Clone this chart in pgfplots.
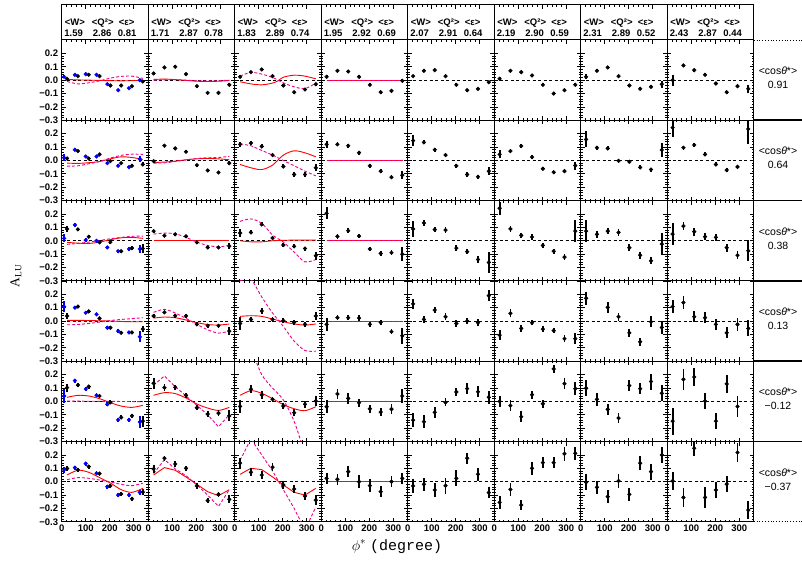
\documentclass[border=0pt]{standalone}
\usepackage{fontspec}
\setmainfont{Liberation Sans}
\newfontfamily\serifA{Liberation Serif}
\newfontfamily\monoA{Liberation Mono}
\usepackage{pgfplots}
\pgfplotsset{compat=1.18}
\pgfplotsset{
 panel/.style={scale only axis, width=86.5pt, height=80.3pt, anchor=north west,
  xmin=0, xmax=360, ymin=-0.3, ymax=0.3,
  xtick={0,100,200,300}, ytick={-0.3,-0.2,-0.1,0,0.1,0.2},
  minor x tick num=4, minor y tick num=4,
  xticklabels={}, yticklabels={},
  major tick length=4pt, minor tick length=2pt,
  axis line style={line width=1pt},
  every tick/.style={black, line width=0.7pt},
  tick label style={font=\bfseries\fontsize{9.5}{10}\selectfont},
  extra y ticks={0}, extra y tick labels={},
  extra y tick style={grid=major, major grid style={black, dash pattern=on 3pt off 2.5pt, line width=0.8pt}},
  clip=true},
 ylab/.style={yticklabels={−0.3,−0.2,−0.1,0.0,0.1,0.2}},
 xlab/.style={xticklabels={0,100,200,300}},
 pts/.style={black, only marks, mark=*, mark size=1.9pt,
  error bars/.cd, y dir=both, y explicit, error mark=none, error bar style={line width=1.8pt, black}},
 bpts/.style={blue, only marks, mark=*, mark size=1.9pt, mark options={fill=blue, draw=blue},
  error bars/.cd, y dir=both, y explicit, error mark=none, error bar style={line width=1.8pt, blue}},
 rc/.style={red, line width=0.9pt, no marks, smooth},
 mc/.style={magenta, dash pattern=on 3pt off 2pt, line width=0.9pt, no marks, smooth},
 rs/.style={red, line width=0.9pt, no marks, sharp plot},
 ms/.style={magenta, dash pattern=on 3pt off 2pt, line width=0.9pt, no marks, sharp plot},
}
\begin{document}
\begin{tikzpicture}
\path[use as bounding box] (0pt,0pt) rectangle (802pt,560pt);

% ---------------- header cells ----------------
\foreach \i/\w/\q/\e in {0/1.59/2.86/0.81, 1/1.71/2.87/0.78, 2/1.83/2.89/0.74, 3/1.95/2.92/0.69, 4/2.07/2.91/0.64, 5/2.19/2.90/0.59, 6/2.31/2.89/0.52, 7/2.43/2.87/0.44}{
 \begin{axis}[scale only axis, width=86.5pt, height=35pt, at={({61.7pt+86.5pt*\i},520pt)}, anchor=south west,
  xmin=0, xmax=360, ymin=0, ymax=1, xtick={0,100,200,300}, minor x tick num=4, xticklabels={}, ytick=\empty,
  xtick pos=right, axis line style={line width=1pt}, major tick length=4pt, minor tick length=2pt,
  every tick/.style={black, line width=0.7pt}]
 \end{axis}
 \node[anchor=base west, font=\bfseries\fontsize{9.5}{10}\selectfont, inner sep=0pt] at ({61.7pt+86.5pt*\i+3pt},534pt) {<W>};
 \node[anchor=base west, font=\bfseries\fontsize{9.5}{10}\selectfont, inner sep=0pt] at ({61.7pt+86.5pt*\i+30pt},534pt) {<Q²>};
 \node[anchor=base west, font=\bfseries\fontsize{9.5}{10}\selectfont, inner sep=0pt] at ({61.7pt+86.5pt*\i+57pt},534pt) {<ε>};
 \node[anchor=base west, font=\bfseries\fontsize{9.5}{10}\selectfont, inner sep=0pt] at ({61.7pt+86.5pt*\i+2.5pt},523.5pt) {\w};
 \node[anchor=base west, font=\bfseries\fontsize{9.5}{10}\selectfont, inner sep=0pt] at ({61.7pt+86.5pt*\i+31pt},523.5pt) {\q};
 \node[anchor=base west, font=\bfseries\fontsize{9.5}{10}\selectfont, inner sep=0pt] at ({61.7pt+86.5pt*\i+56pt},523.5pt) {\e};
}

% ================= ROW 1 (cos = 0.91) =================
\begin{axis}[panel, ylab, at={(61.7pt,520pt)}]
\addplot[rc] coordinates {(22.5,0.005)(67.5,0.002)(112.5,0.0)(157.5,-0.002)(202.5,-0.004)(247.5,-0.005)(292.5,-0.004)(337.5,0.0)};
\addplot[mc] coordinates {(22.5,-0.01)(67.5,-0.028)(112.5,-0.02)(157.5,-0.005)(202.5,0.015)(247.5,0.028)(292.5,0.03)(337.5,0.013)};
\addplot[bpts] table[row sep=\\, y error index=2]{10 0.025 0.01\\55 0.04 0.008\\100 0.045 0.008\\145 0.04 0.008\\190 -0.03 0.008\\235 -0.075 0.008\\280 -0.06 0.008\\325 0.0 0.01\\};
\addplot[pts] table[row sep=\\, y error index=2]{22.5 0.01 0.008\\67.5 0.03 0.008\\112.5 0.04 0.008\\157.5 0.03 0.008\\202.5 -0.04 0.008\\247.5 -0.04 0.008\\292.5 -0.045 0.008\\337.5 -0.01 0.01\\};
\end{axis}
\begin{axis}[panel, at={(148.2pt,520pt)}]
\addplot[rc] coordinates {(22.5,0.005)(67.5,0.008)(112.5,0.004)(157.5,-0.002)(202.5,-0.008)(247.5,-0.01)(292.5,-0.008)(337.5,-0.003)};
\addplot[mc] coordinates {(22.5,0.0)(112.5,0.003)(202.5,-0.004)(292.5,-0.004)(337.5,0.0)};
\addplot[pts] table[row sep=\\, y error index=2]{22.5 0.05 0.01\\67.5 0.095 0.01\\112.5 0.1 0.01\\157.5 0.045 0.01\\202.5 -0.045 0.01\\247.5 -0.095 0.01\\292.5 -0.095 0.01\\337.5 -0.035 0.01\\};
\end{axis}
\begin{axis}[panel, at={(234.7pt,520pt)}]
\addplot[rc] coordinates {(22.5,-0.012)(67.5,-0.028)(112.5,-0.035)(157.5,-0.022)(180,-0.005)(202.5,0.022)(247.5,0.037)(292.5,0.03)(337.5,0.01)};
\addplot[mc] coordinates {(22.5,0.03)(67.5,0.058)(112.5,0.045)(157.5,0.02)(202.5,-0.02)(247.5,-0.05)(292.5,-0.063)(337.5,-0.022)};
\addplot[pts] table[row sep=\\, y error index=2]{22.5 0.025 0.01\\67.5 0.06 0.01\\112.5 0.08 0.01\\157.5 0.03 0.01\\202.5 -0.04 0.01\\247.5 -0.09 0.01\\292.5 -0.07 0.01\\337.5 -0.03 0.01\\};
\end{axis}
\begin{axis}[panel, at={(321.2pt,520pt)}]
\addplot[rs] coordinates {(22.5,0)(337.5,0)};
\addplot[ms] coordinates {(22.5,0)(337.5,0)};
\addplot[pts] table[row sep=\\, y error index=2]{22.5 0.025 0.01\\67.5 0.07 0.01\\112.5 0.065 0.01\\157.5 0.025 0.01\\202.5 -0.035 0.01\\247.5 -0.09 0.01\\292.5 -0.08 0.01\\337.5 -0.005 0.01\\};
\end{axis}
\begin{axis}[panel, at={(407.7pt,520pt)}]
\addplot[pts] table[row sep=\\, y error index=2]{22.5 0.03 0.01\\67.5 0.07 0.01\\112.5 0.075 0.01\\157.5 0.03 0.01\\202.5 -0.035 0.01\\247.5 -0.075 0.01\\292.5 -0.065 0.01\\337.5 -0.015 0.01\\};
\end{axis}
\begin{axis}[panel, at={(494.2pt,520pt)}]
\addplot[pts] table[row sep=\\, y error index=2]{22.5 0.01 0.01\\67.5 0.07 0.01\\112.5 0.06 0.01\\157.5 0.035 0.01\\202.5 -0.035 0.01\\247.5 -0.1 0.01\\292.5 -0.075 0.01\\337.5 -0.035 0.01\\};
\end{axis}
\begin{axis}[panel, at={(580.7pt,520pt)}]
\addplot[pts] table[row sep=\\, y error index=2]{22.5 0.025 0.02\\67.5 0.07 0.012\\112.5 0.095 0.012\\157.5 0.03 0.012\\202.5 -0.04 0.012\\247.5 -0.065 0.012\\292.5 -0.05 0.012\\337.5 -0.03 0.025\\};
\end{axis}
\begin{axis}[panel, at={(667.2pt,520pt)}]
\addplot[pts] table[row sep=\\, y error index=2]{22.5 0.0 0.04\\67.5 0.11 0.012\\112.5 0.075 0.012\\157.5 0.04 0.012\\202.5 -0.025 0.012\\247.5 -0.09 0.012\\292.5 -0.045 0.015\\337.5 -0.065 0.03\\};
\end{axis}

% ================= ROW 2 (cos = 0.64) =================
\begin{axis}[panel, ylab, at={(61.7pt,439.7pt)}]
\addplot[rc] coordinates {(22.5,-0.02)(67.5,-0.022)(112.5,-0.017)(157.5,-0.008)(202.5,0.012)(247.5,0.027)(292.5,0.022)(337.5,0.008)};
\addplot[mc] coordinates {(22.5,-0.043)(67.5,-0.04)(112.5,-0.025)(157.5,-0.008)(202.5,0.018)(247.5,0.038)(292.5,0.047)(337.5,0.045)};
\addplot[bpts] table[row sep=\\, y error index=2]{10 0.02 0.025\\55 0.08 0.01\\100 0.03 0.01\\145 0.03 0.01\\190 -0.02 0.01\\235 -0.04 0.01\\280 -0.05 0.01\\325 0.01 0.02\\};
\addplot[pts] table[row sep=\\, y error index=2]{22.5 0.015 0.01\\67.5 0.07 0.01\\112.5 0.015 0.01\\157.5 0.045 0.01\\202.5 -0.005 0.01\\247.5 -0.02 0.01\\292.5 -0.04 0.01\\337.5 -0.03 0.015\\};
\end{axis}
\begin{axis}[panel, at={(148.2pt,439.7pt)}]
\addplot[rc] coordinates {(22.5,-0.015)(67.5,-0.012)(112.5,-0.005)(157.5,0.005)(202.5,0.012)(247.5,0.015)(292.5,0.012)(337.5,0.005)};
\addplot[mc] coordinates {(22.5,-0.02)(67.5,-0.018)(112.5,-0.008)(157.5,0.004)(202.5,0.015)(247.5,0.02)(292.5,0.022)(337.5,0.03)};
\addplot[pts] table[row sep=\\, y error index=2]{22.5 -0.005 0.012\\67.5 0.11 0.012\\112.5 0.09 0.012\\157.5 0.065 0.012\\202.5 -0.035 0.012\\247.5 -0.075 0.012\\292.5 -0.09 0.012\\337.5 -0.02 0.015\\};
\end{axis}
\begin{axis}[panel, at={(234.7pt,439.7pt)}]
\addplot[rc] coordinates {(22.5,-0.03)(67.5,-0.055)(112.5,-0.068)(157.5,-0.035)(202.5,0.04)(247.5,0.072)(292.5,0.057)(337.5,0.027)};
\addplot[ms] coordinates {(22.5,0.125)(67.5,0.11)(112.5,0.075)(157.5,0.04)(202.5,0.0)(247.5,-0.04)(292.5,-0.08)(337.5,-0.115)};
\addplot[pts] table[row sep=\\, y error index=2]{22.5 0.12 0.02\\67.5 0.13 0.015\\112.5 0.105 0.015\\157.5 0.04 0.015\\202.5 -0.045 0.015\\247.5 -0.105 0.015\\292.5 -0.105 0.015\\337.5 -0.055 0.025\\};
\end{axis}
\begin{axis}[panel, at={(321.2pt,439.7pt)}]
\addplot[rs] coordinates {(22.5,0)(337.5,0)};
\addplot[ms] coordinates {(22.5,0)(337.5,0)};
\addplot[pts] table[row sep=\\, y error index=2]{22.5 0.12 0.025\\67.5 0.12 0.015\\112.5 0.11 0.015\\157.5 0.058 0.015\\202.5 -0.04 0.015\\247.5 -0.08 0.015\\292.5 -0.125 0.015\\337.5 -0.11 0.03\\};
\end{axis}
\begin{axis}[panel, at={(407.7pt,439.7pt)}]
\addplot[pts] table[row sep=\\, y error index=2]{22.5 0.148 0.04\\67.5 0.135 0.015\\112.5 0.08 0.015\\157.5 0.04 0.015\\202.5 -0.04 0.015\\247.5 -0.105 0.015\\292.5 -0.122 0.015\\337.5 -0.08 0.03\\};
\end{axis}
\begin{axis}[panel, at={(494.2pt,439.7pt)}]
\addplot[pts] table[row sep=\\, y error index=2]{22.5 0.045 0.03\\67.5 0.07 0.015\\112.5 0.108 0.015\\157.5 0.025 0.012\\202.5 -0.062 0.012\\247.5 -0.088 0.012\\292.5 -0.08 0.015\\337.5 -0.038 0.03\\};
\end{axis}
\begin{axis}[panel, at={(580.7pt,439.7pt)}]
\addplot[pts] table[row sep=\\, y error index=2]{22.5 0.157 0.06\\67.5 0.095 0.015\\112.5 0.09 0.015\\157.5 -0.003 0.012\\202.5 -0.01 0.012\\247.5 -0.052 0.015\\292.5 -0.068 0.015\\337.5 0.078 0.05\\};
\end{axis}
\begin{axis}[panel, at={(667.2pt,439.7pt)}]
\addplot[pts] table[row sep=\\, y error index=2]{22.5 0.245 0.07\\67.5 0.095 0.015\\112.5 0.115 0.015\\157.5 0.045 0.015\\202.5 -0.03 0.015\\247.5 -0.072 0.015\\292.5 -0.048 0.015\\337.5 0.235 0.11\\};
\end{axis}

% ================= ROW 3 (cos = 0.38) =================
\begin{axis}[panel, ylab, at={(61.7pt,359.4pt)}]
\addplot[rc] coordinates {(22.5,-0.012)(67.5,-0.018)(112.5,-0.02)(157.5,-0.01)(202.5,0.008)(247.5,0.022)(292.5,0.025)(337.5,0.018)};
\addplot[mc] coordinates {(22.5,-0.027)(67.5,-0.02)(112.5,-0.01)(157.5,0.002)(202.5,0.015)(247.5,0.025)(292.5,0.033)(337.5,0.035)};
\addplot[bpts] table[row sep=\\, y error index=2]{10 0.018 0.03\\55 0.118 0.012\\100 0.005 0.012\\145 0.0 0.012\\190 -0.05 0.012\\235 -0.078 0.012\\280 -0.062 0.012\\325 -0.062 0.03\\};
\addplot[pts] table[row sep=\\, y error index=2]{22.5 0.088 0.02\\67.5 0.085 0.012\\112.5 0.03 0.012\\157.5 -0.012 0.012\\202.5 -0.01 0.012\\247.5 -0.078 0.012\\292.5 -0.055 0.015\\337.5 -0.058 0.03\\};
\end{axis}
\begin{axis}[panel, at={(148.2pt,359.4pt)}]
\addplot[rs] coordinates {(22.5,0)(337.5,0)};
\addplot[mc] coordinates {(22.5,0.05)(67.5,0.057)(112.5,0.052)(157.5,0.025)(202.5,-0.01)(247.5,-0.035)(292.5,-0.045)(337.5,-0.035)};
\addplot[pts] table[row sep=\\, y error index=2]{22.5 0.072 0.012\\67.5 0.038 0.012\\112.5 0.048 0.012\\157.5 0.033 0.012\\202.5 -0.012 0.012\\247.5 -0.05 0.012\\292.5 -0.05 0.012\\337.5 -0.04 0.02\\};
\end{axis}
\begin{axis}[panel, at={(234.7pt,359.4pt)}]
\addplot[rc] coordinates {(22.5,0.0)(67.5,-0.008)(112.5,-0.008)(157.5,0.0)(202.5,0.003)(247.5,0.005)(292.5,0.005)(337.5,0.005)};
\addplot[mc] coordinates {(22.5,0.145)(67.5,0.163)(112.5,0.13)(157.5,0.043)(202.5,-0.01)(247.5,-0.085)(292.5,-0.158)(337.5,-0.14)};
\addplot[pts] table[row sep=\\, y error index=2]{22.5 0.058 0.03\\67.5 0.062 0.015\\112.5 0.122 0.015\\157.5 0.02 0.015\\202.5 -0.032 0.015\\247.5 -0.042 0.015\\292.5 -0.058 0.015\\337.5 -0.112 0.03\\};
\end{axis}
\begin{axis}[panel, at={(321.2pt,359.4pt)}]
\addplot[rs] coordinates {(22.5,0)(337.5,0)};
\addplot[ms] coordinates {(22.5,0)(337.5,0)};
\addplot[pts] table[row sep=\\, y error index=2]{22.5 0.205 0.045\\67.5 0.032 0.018\\112.5 0.075 0.018\\157.5 0.035 0.018\\202.5 -0.062 0.018\\247.5 -0.095 0.018\\292.5 -0.09 0.018\\337.5 -0.1 0.05\\};
\end{axis}
\begin{axis}[panel, at={(407.7pt,359.4pt)}]
\addplot[pts] table[row sep=\\, y error index=2]{22.5 0.088 0.06\\67.5 0.133 0.02\\112.5 0.083 0.02\\157.5 0.08 0.02\\202.5 -0.055 0.02\\247.5 -0.082 0.02\\292.5 -0.14 0.025\\337.5 -0.162 0.08\\};
\end{axis}
\begin{axis}[panel, at={(494.2pt,359.4pt)}]
\addplot[pts] table[row sep=\\, y error index=2]{22.5 0.243 0.05\\67.5 0.088 0.02\\112.5 0.04 0.02\\157.5 0.028 0.02\\202.5 -0.035 0.02\\247.5 -0.078 0.02\\292.5 -0.122 0.02\\337.5 0.072 0.08\\};
\end{axis}
\begin{axis}[panel, at={(580.7pt,359.4pt)}]
\addplot[pts] table[row sep=\\, y error index=2]{22.5 0.072 0.08\\67.5 0.048 0.025\\112.5 0.072 0.025\\157.5 0.062 0.025\\202.5 -0.052 0.025\\247.5 -0.108 0.025\\292.5 -0.15 0.025\\337.5 -0.025 0.08\\};
\end{axis}
\begin{axis}[panel, at={(667.2pt,359.4pt)}]
\addplot[pts] table[row sep=\\, y error index=2]{22.5 0.05 0.08\\67.5 0.11 0.03\\112.5 0.068 0.03\\157.5 0.03 0.025\\202.5 0.025 0.025\\247.5 -0.052 0.03\\292.5 -0.108 0.03\\337.5 -0.075 0.08\\};
\end{axis}

% ================= ROW 4 (cos = 0.13) =================
\begin{axis}[panel, ylab, at={(61.7pt,279.1pt)}]
\addplot[rc] coordinates {(22.5,0.005)(67.5,0.005)(112.5,0.004)(157.5,0.002)(202.5,0.0)(247.5,-0.003)(292.5,-0.005)(337.5,-0.005)};
\addplot[mc] coordinates {(22.5,-0.028)(67.5,-0.026)(112.5,-0.018)(157.5,-0.008)(202.5,0.004)(247.5,0.012)(292.5,0.018)(337.5,0.025)};
\addplot[bpts] table[row sep=\\, y error index=2]{10 0.108 0.04\\55 0.1 0.012\\100 0.062 0.012\\145 0.05 0.012\\190 -0.05 0.012\\235 -0.075 0.012\\280 -0.085 0.012\\325 -0.118 0.04\\};
\addplot[pts] table[row sep=\\, y error index=2]{22.5 0.038 0.025\\67.5 0.108 0.012\\112.5 0.072 0.012\\157.5 0.02 0.012\\202.5 -0.05 0.012\\247.5 -0.088 0.012\\292.5 -0.085 0.012\\337.5 -0.06 0.025\\};
\end{axis}
\begin{axis}[panel, at={(148.2pt,279.1pt)}]
\addplot[rc] coordinates {(22.5,0.022)(67.5,0.03)(112.5,0.025)(157.5,0.008)(202.5,-0.012)(247.5,-0.026)(292.5,-0.03)(337.5,-0.022)};
\addplot[mc] coordinates {(22.5,0.065)(67.5,0.088)(112.5,0.06)(157.5,0.02)(202.5,-0.025)(247.5,-0.065)(292.5,-0.09)(337.5,-0.075)};
\addplot[pts] table[row sep=\\, y error index=2]{22.5 0.038 0.018\\67.5 0.065 0.015\\112.5 0.04 0.015\\157.5 0.038 0.015\\202.5 -0.025 0.015\\247.5 -0.035 0.015\\292.5 -0.035 0.015\\337.5 -0.075 0.03\\};
\end{axis}
\begin{axis}[panel, at={(234.7pt,279.1pt)}]
\addplot[rc] coordinates {(22.5,0.035)(67.5,0.04)(112.5,0.035)(157.5,0.015)(202.5,-0.005)(247.5,-0.022)(292.5,-0.03)(337.5,-0.022)};
\addplot[mc] coordinates {(22.5,0.3)(67.5,0.31)(112.5,0.18)(157.5,0.06)(202.5,-0.04)(247.5,-0.15)(292.5,-0.22)(337.5,-0.225)};
\addplot[pts] table[row sep=\\, y error index=2]{22.5 -0.018 0.05\\67.5 0.012 0.02\\112.5 0.075 0.02\\157.5 0.012 0.018\\202.5 0.002 0.018\\247.5 -0.01 0.018\\292.5 -0.025 0.018\\337.5 0.038 0.03\\};
\end{axis}
\begin{axis}[panel, at={(321.2pt,279.1pt)}]
\addplot[rs] coordinates {(22.5,0)(337.5,0)};
\addplot[ms] coordinates {(22.5,0)(337.5,0)};
\addplot[pts] table[row sep=\\, y error index=2]{22.5 -0.025 0.05\\67.5 0.025 0.02\\112.5 0.025 0.02\\157.5 0.022 0.02\\202.5 -0.025 0.02\\247.5 -0.01 0.02\\292.5 -0.08 0.02\\337.5 -0.11 0.06\\};
\end{axis}
\begin{axis}[panel, at={(407.7pt,279.1pt)}]
\addplot[pts] table[row sep=\\, y error index=2]{22.5 0.128 0.04\\67.5 0.012 0.025\\112.5 0.082 0.025\\157.5 0.032 0.025\\202.5 -0.018 0.025\\247.5 0.0 0.025\\292.5 -0.012 0.025\\337.5 0.19 0.04\\};
\end{axis}
\begin{axis}[panel, at={(494.2pt,279.1pt)}]
\addplot[pts] table[row sep=\\, y error index=2]{22.5 -0.105 0.04\\67.5 0.058 0.03\\112.5 -0.055 0.025\\157.5 -0.012 0.02\\202.5 -0.06 0.02\\247.5 -0.072 0.02\\292.5 -0.132 0.025\\337.5 -0.132 0.04\\};
\end{axis}
\begin{axis}[panel, at={(580.7pt,279.1pt)}]
\addplot[pts] table[row sep=\\, y error index=2]{22.5 0.17 0.05\\112.5 0.102 0.04\\157.5 0.032 0.03\\202.5 -0.088 0.03\\247.5 -0.155 0.03\\292.5 -0.005 0.04\\337.5 -0.048 0.05\\};
\end{axis}
\begin{axis}[panel, at={(667.2pt,279.1pt)}]
\addplot[pts] table[row sep=\\, y error index=2]{22.5 0.108 0.05\\67.5 0.138 0.05\\112.5 0.032 0.04\\157.5 0.025 0.04\\202.5 -0.025 0.04\\247.5 -0.088 0.04\\292.5 -0.025 0.05\\337.5 -0.055 0.06\\};
\end{axis}

% ================= ROW 5 (cos = -0.12) =================
\begin{axis}[panel, ylab, at={(61.7pt,198.8pt)}]
\addplot[rc] coordinates {(22.5,0.03)(67.5,0.045)(112.5,0.04)(157.5,0.02)(202.5,-0.01)(247.5,-0.035)(292.5,-0.045)(337.5,-0.03)};
\addplot[ms] coordinates {(22.5,0.002)(337.5,-0.002)};
\addplot[bpts] table[row sep=\\, y error index=2]{10 0.04 0.05\\55 0.155 0.015\\100 0.092 0.015\\145 0.045 0.015\\190 -0.022 0.015\\235 -0.138 0.015\\280 -0.138 0.015\\325 -0.155 0.045\\};
\addplot[pts] table[row sep=\\, y error index=2]{22.5 0.102 0.03\\67.5 0.122 0.015\\112.5 0.11 0.015\\157.5 0.04 0.015\\202.5 -0.008 0.015\\247.5 -0.12 0.015\\292.5 -0.108 0.015\\337.5 -0.148 0.04\\};
\end{axis}
\begin{axis}[panel, at={(148.2pt,198.8pt)}]
\addplot[rc] coordinates {(22.5,0.045)(67.5,0.065)(112.5,0.058)(157.5,0.025)(202.5,-0.02)(247.5,-0.05)(292.5,-0.068)(337.5,-0.045)};
\addplot[ms] coordinates {(22.5,0.12)(67.5,0.19)(112.5,0.11)(157.5,0.04)(202.5,-0.03)(247.5,-0.1)(292.5,-0.19)(337.5,-0.1)};
\addplot[pts] table[row sep=\\, y error index=2]{22.5 0.135 0.04\\67.5 0.102 0.025\\112.5 0.105 0.02\\157.5 0.045 0.02\\202.5 -0.048 0.02\\247.5 -0.095 0.02\\292.5 -0.088 0.02\\337.5 -0.108 0.04\\};
\end{axis}
\begin{axis}[panel, at={(234.7pt,198.8pt)}]
\addplot[rc] coordinates {(22.5,0.045)(67.5,0.08)(112.5,0.06)(157.5,0.02)(202.5,-0.025)(247.5,-0.055)(292.5,-0.07)(337.5,-0.04)};
\addplot[mc] coordinates {(22.5,0.6)(67.5,0.4)(112.5,0.2)(157.5,0.1)(202.5,0.01)(247.5,-0.15)(292.5,-0.38)(337.5,-0.5)};
\addplot[pts] table[row sep=\\, y error index=2]{22.5 -0.038 0.05\\67.5 0.09 0.03\\112.5 0.048 0.03\\157.5 0.015 0.02\\202.5 -0.035 0.025\\247.5 -0.085 0.025\\292.5 -0.022 0.025\\337.5 0.002 0.04\\};
\end{axis}
\begin{axis}[panel, at={(321.2pt,198.8pt)}]
\addplot[rs] coordinates {(22.5,0)(337.5,0)};
\addplot[ms] coordinates {(22.5,0)(337.5,0)};
\addplot[pts] table[row sep=\\, y error index=2]{22.5 -0.04 0.05\\67.5 0.055 0.04\\112.5 0.022 0.04\\157.5 -0.01 0.03\\202.5 -0.055 0.03\\247.5 -0.08 0.03\\292.5 -0.058 0.04\\337.5 0.04 0.05\\};
\end{axis}
\begin{axis}[panel, at={(407.7pt,198.8pt)}]
\addplot[pts] table[row sep=\\, y error index=2]{22.5 -0.14 0.05\\67.5 -0.152 0.05\\112.5 -0.082 0.04\\157.5 -0.008 0.03\\202.5 0.07 0.03\\247.5 0.095 0.04\\292.5 0.072 0.04\\337.5 0.03 0.05\\};
\end{axis}
\begin{axis}[panel, at={(494.2pt,198.8pt)}]
\addplot[pts] table[row sep=\\, y error index=2]{22.5 0.0 0.04\\67.5 -0.032 0.04\\112.5 -0.115 0.04\\157.5 0.05 0.03\\202.5 -0.018 0.03\\247.5 0.242 0.03\\292.5 0.132 0.04\\337.5 0.095 0.05\\};
\end{axis}
\begin{axis}[panel, at={(580.7pt,198.8pt)}]
\addplot[pts] table[row sep=\\, y error index=2]{22.5 0.098 0.06\\67.5 0.015 0.05\\112.5 -0.06 0.04\\157.5 -0.125 0.04\\202.5 0.118 0.04\\247.5 0.095 0.04\\292.5 0.148 0.06\\337.5 0.06 0.06\\};
\end{axis}
\begin{axis}[panel, at={(667.2pt,198.8pt)}]
\addplot[pts] table[row sep=\\, y error index=2]{22.5 -0.148 0.1\\67.5 0.165 0.08\\112.5 0.182 0.07\\157.5 0.002 0.06\\202.5 -0.148 0.06\\247.5 0.13 0.07\\292.5 -0.038 0.08\\};
\end{axis}

% ================= ROW 6 (cos = -0.37) =================
\begin{axis}[panel, ylab, xlab, at={(61.7pt,118.5pt)}]
\addplot[rc] coordinates {(22.5,0.05)(67.5,0.085)(112.5,0.07)(157.5,0.03)(202.5,-0.01)(247.5,-0.06)(292.5,-0.08)(337.5,-0.05)};
\addplot[mc] coordinates {(22.5,0.015)(67.5,0.03)(112.5,0.025)(157.5,0.012)(202.5,-0.002)(247.5,-0.02)(292.5,-0.03)(337.5,-0.012)};
\addplot[bpts] table[row sep=\\, y error index=2]{10 0.088 0.02\\55 0.105 0.015\\100 0.135 0.015\\145 0.062 0.015\\190 -0.038 0.015\\235 -0.1 0.015\\280 -0.1 0.015\\325 -0.08 0.02\\};
\addplot[pts] table[row sep=\\, y error index=2]{22.5 0.098 0.02\\67.5 0.088 0.015\\112.5 0.112 0.015\\157.5 0.06 0.015\\202.5 -0.032 0.015\\247.5 -0.092 0.015\\292.5 -0.128 0.015\\337.5 -0.078 0.02\\};
\end{axis}
\begin{axis}[panel, xlab, at={(148.2pt,118.5pt)}]
\addplot[rs] coordinates {(22.5,0.05)(67.5,0.105)(112.5,0.085)(157.5,0.035)(202.5,-0.02)(247.5,-0.075)(292.5,-0.105)(337.5,-0.06)};
\addplot[ms] coordinates {(22.5,0.06)(67.5,0.165)(112.5,0.095)(157.5,0.045)(202.5,-0.025)(247.5,-0.1)(292.5,-0.185)(337.5,-0.06)};
\addplot[pts] table[row sep=\\, y error index=2]{22.5 0.095 0.03\\67.5 0.175 0.02\\112.5 0.132 0.02\\157.5 0.1 0.02\\202.5 -0.032 0.02\\247.5 -0.142 0.02\\292.5 -0.095 0.02\\337.5 -0.132 0.03\\};
\end{axis}
\begin{axis}[panel, xlab, at={(234.7pt,118.5pt)}]
\addplot[rs] coordinates {(22.5,0.055)(67.5,0.1)(112.5,0.09)(157.5,0.035)(202.5,-0.025)(247.5,-0.08)(292.5,-0.1)(337.5,-0.05)};
\addplot[ms] coordinates {(22.5,0.16)(67.5,0.32)(112.5,0.2)(157.5,0.08)(202.5,-0.06)(247.5,-0.2)(292.5,-0.36)(337.5,-0.19)};
\addplot[pts] table[row sep=\\, y error index=2]{22.5 0.138 0.04\\67.5 0.07 0.03\\112.5 0.05 0.03\\157.5 0.108 0.03\\202.5 -0.025 0.03\\247.5 -0.055 0.03\\292.5 -0.108 0.03\\337.5 -0.138 0.04\\};
\end{axis}
\begin{axis}[panel, xlab, at={(321.2pt,118.5pt)}]
\addplot[rs] coordinates {(22.5,0)(337.5,0)};
\addplot[ms] coordinates {(22.5,0)(337.5,0)};
\addplot[pts] table[row sep=\\, y error index=2]{22.5 0.025 0.04\\67.5 0.018 0.04\\112.5 0.075 0.04\\157.5 0.0 0.05\\202.5 -0.03 0.05\\247.5 -0.075 0.04\\292.5 0.0 0.04\\337.5 0.025 0.04\\};
\end{axis}
\begin{axis}[panel, xlab, at={(407.7pt,118.5pt)}]
\addplot[pts] table[row sep=\\, y error index=2]{22.5 -0.032 0.05\\67.5 -0.02 0.05\\112.5 -0.062 0.05\\157.5 -0.03 0.06\\202.5 0.025 0.06\\247.5 0.175 0.04\\292.5 0.055 0.05\\337.5 -0.082 0.04\\};
\end{axis}
\begin{axis}[panel, xlab, at={(494.2pt,118.5pt)}]
\addplot[pts] table[row sep=\\, y error index=2]{22.5 -0.155 0.05\\67.5 -0.058 0.05\\112.5 -0.175 0.04\\157.5 0.1 0.05\\202.5 0.142 0.04\\247.5 0.142 0.04\\292.5 0.208 0.05\\337.5 0.212 0.05\\};
\end{axis}
\begin{axis}[panel, xlab, at={(580.7pt,118.5pt)}]
\addplot[pts] table[row sep=\\, y error index=2]{22.5 -0.005 0.06\\67.5 -0.042 0.05\\112.5 -0.112 0.05\\157.5 0.005 0.05\\202.5 -0.095 0.05\\247.5 0.138 0.05\\292.5 0.075 0.06\\337.5 0.2 0.06\\};
\end{axis}
\begin{axis}[panel, xlab, at={(667.2pt,118.5pt)}]
\addplot[pts] table[row sep=\\, y error index=2]{22.5 0.005 0.07\\67.5 -0.118 0.07\\112.5 0.25 0.06\\157.5 -0.118 0.08\\202.5 -0.062 0.06\\247.5 -0.018 0.06\\292.5 0.218 0.07\\337.5 -0.212 0.07\\};
\end{axis}

% ---------------- right-hand labels ----------------
\foreach \k/\c in {0/0.91, 1/0.64, 2/0.38, 3/0.13, 4/−0.12, 5/−0.37}{
 \node[anchor=base, font=\fontsize{10.5}{11}\selectfont, inner sep=0pt] at (778pt,{479.85pt-80.3pt*\k+5.5pt}) {<cos\textit{θ}*>};
 \node[anchor=base, font=\fontsize{10.5}{11}\selectfont, inner sep=0pt] at (778pt,{479.85pt-80.3pt*\k-8.5pt}) {\c};
}
\foreach \k in {1,...,5}{
 \draw[line width=1.6pt] (753.7pt,{520pt-80.3pt*\k}) -- (802pt,{520pt-80.3pt*\k});
}
\draw[line width=0.8pt, dotted] (753.7pt,520pt) -- (802pt,520pt);
\draw[line width=0.8pt, dotted] (753.7pt,38.2pt) -- (802pt,38.2pt);

% ---------------- axis titles ----------------
\node[rotate=90, font=\serifA\fontsize{13.5}{14}\selectfont] at (16pt,284pt) {A\textsubscript{LU}};
\node[anchor=base, font=\fontsize{15}{15}\selectfont] at (397pt,10pt) {$\phi^{*}$ {\monoA (degree)}};
\end{tikzpicture}
\end{document}
